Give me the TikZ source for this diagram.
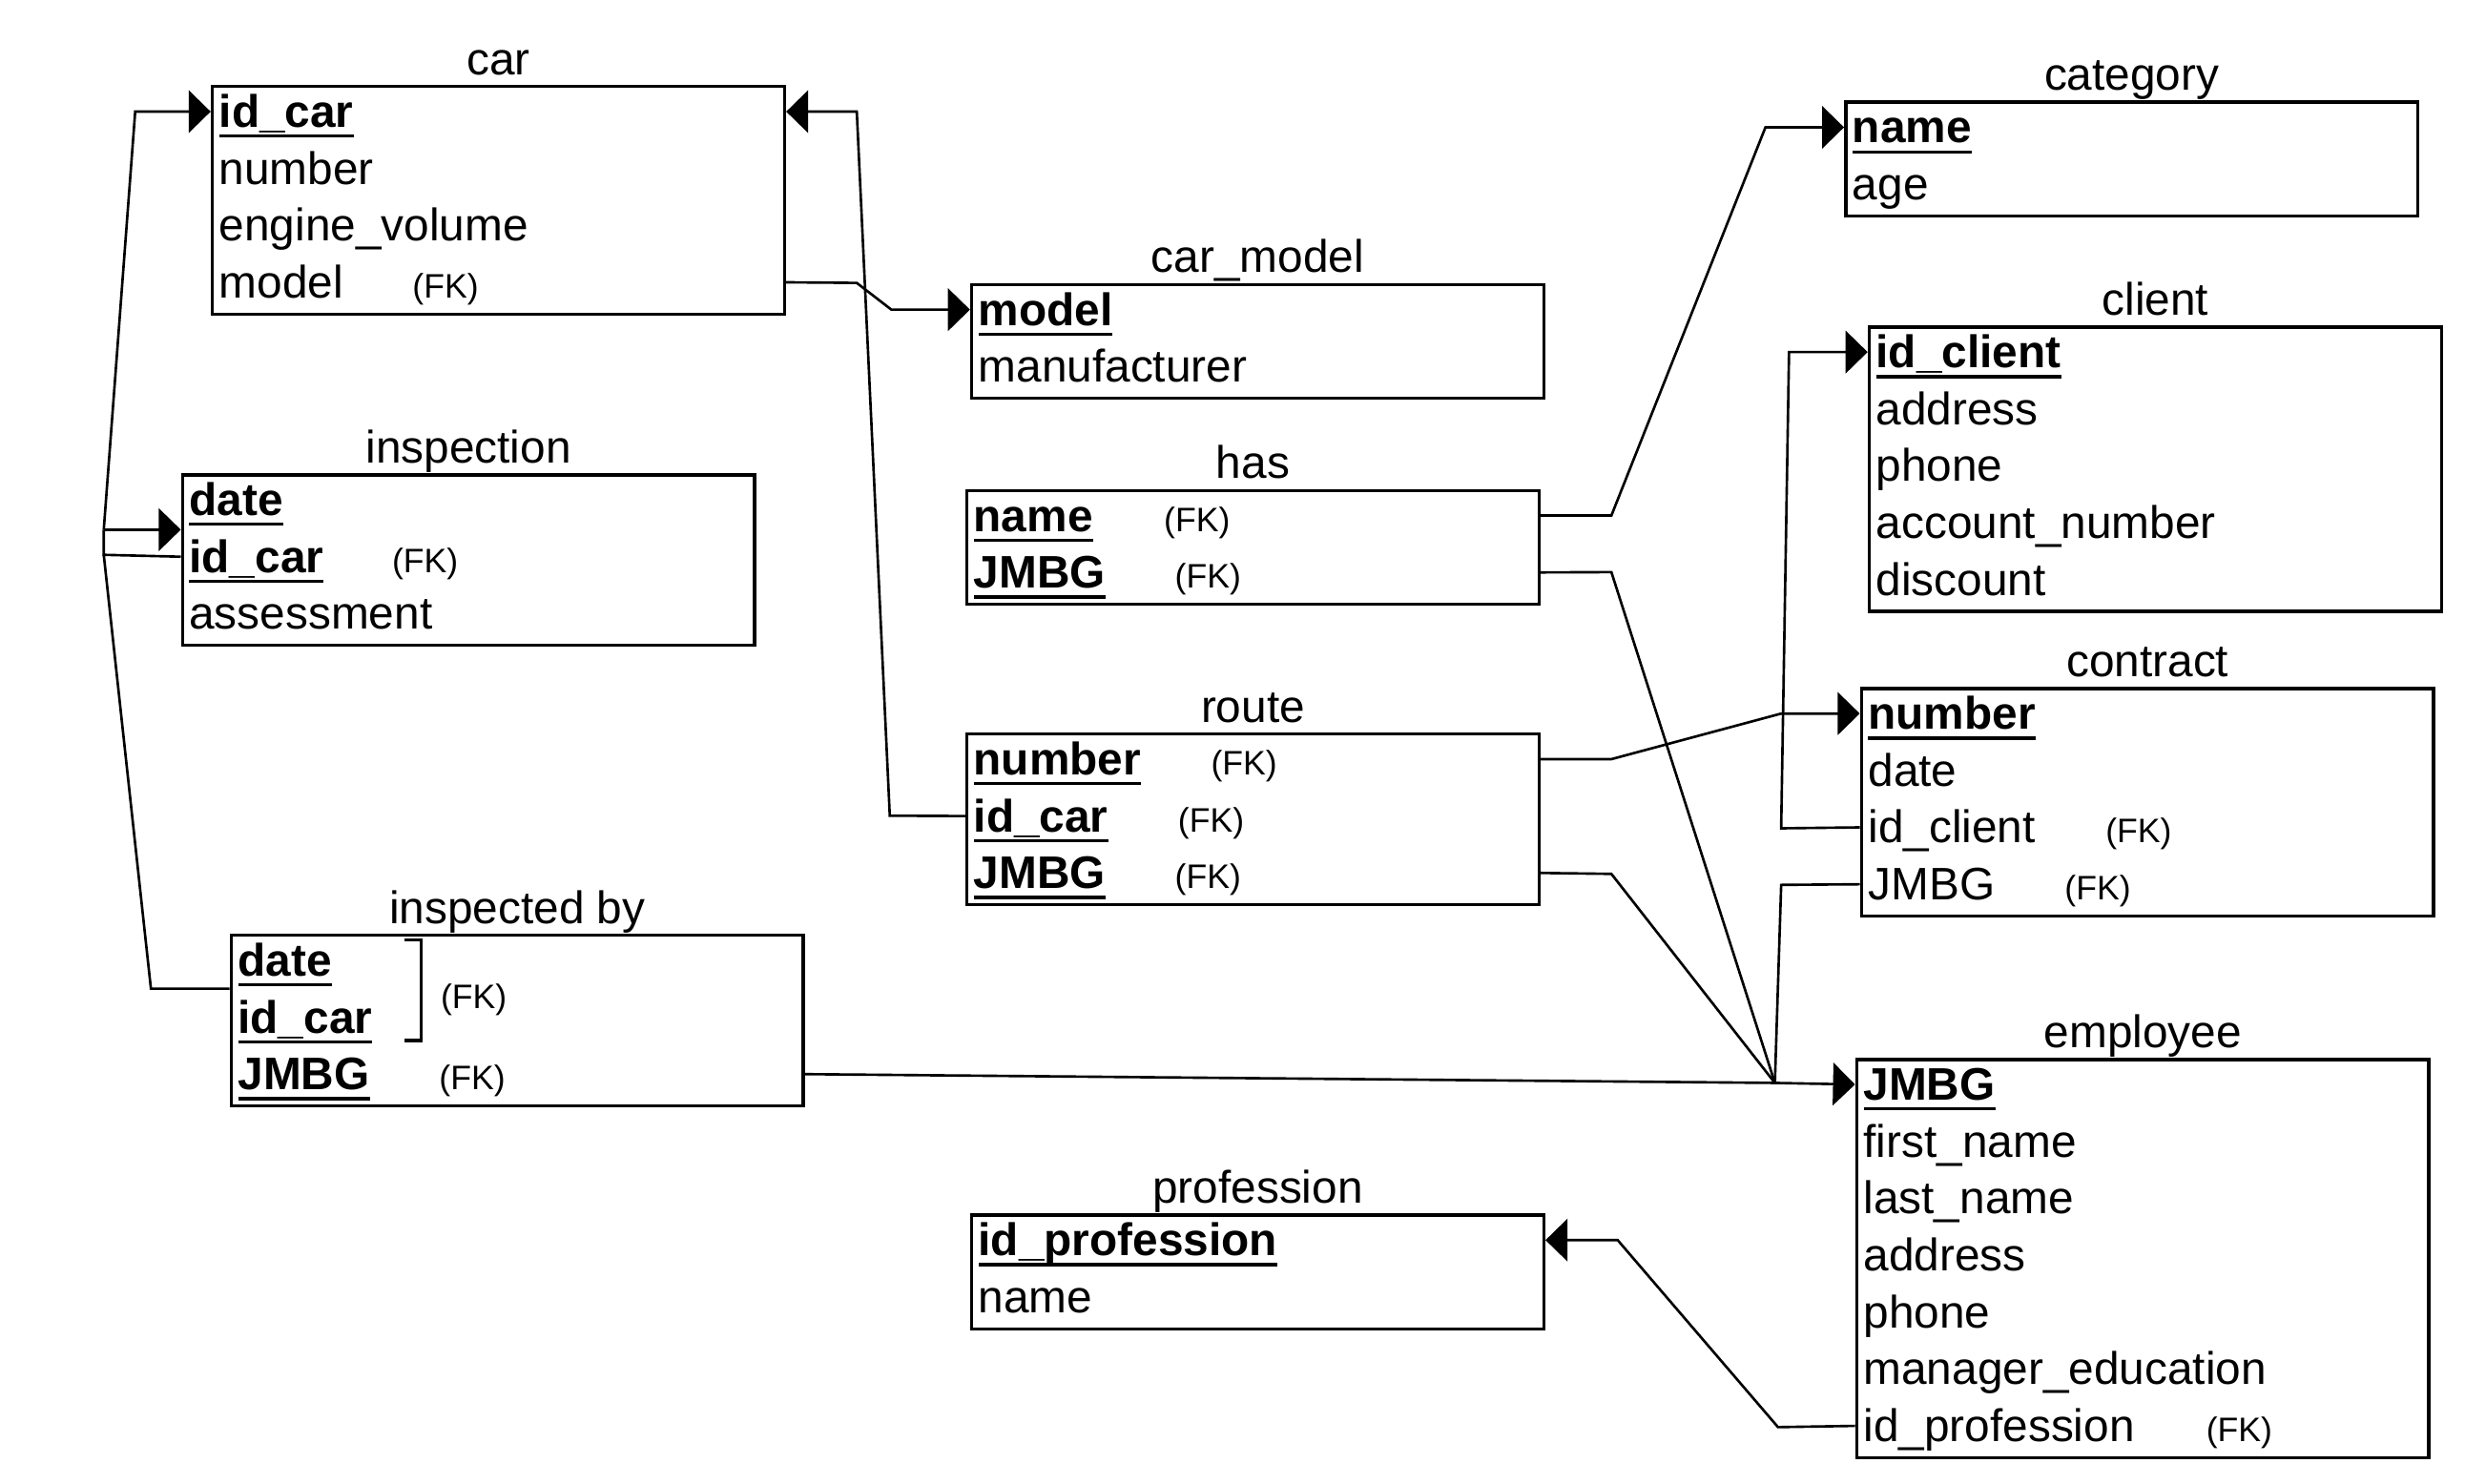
\documentclass[tikz,border=0pt]{standalone}
\usepackage{fontspec}
\setmainfont{Liberation Sans}
\usetikzlibrary{arrows.meta,calc}
\newcommand\pk[1]{\setbox0\hbox{\bfseries #1}\rlap{\rule[-3.3pt]{\wd0}{1pt}}\box0}
\newcommand\tablebox[5]{%
  \node[tbox, minimum height=#4*18.1pt] (#1) at (#2,#3) {};
  \node[ttl] (#1-title) at ($(#1.north)+(0,-6.5)$) {#5};}
\newcommand\trow[3]{%
  \node[attr] (#1-r#2) at ($(#1.north west)+(5,{27+36.2*(#2-1)})$) {#3};
  \coordinate (#1-w#2) at ($(#1.north west)+(0,{17+36.2*(#2-1)})$);
  \coordinate (#1-e#2) at ($(#1.north east)+(0,{17+36.2*(#2-1)})$);}
\newcommand\fkat[3]{%
  \node[fk] (#1-fk#2) at ($(#1-r#2.base west)+(#3,0)$) {(FK)};}
\begin{document}
\begin{tikzpicture}[x=0.5pt,y=-0.5pt,
  tbox/.style={draw, line width=1.05pt, minimum width=182pt, inner sep=0pt, anchor=north west},
  ttl/.style={anchor=base, inner sep=0pt, font=\fontsize{14.5}{17}\selectfont},
  attr/.style={anchor=base west, inner sep=0pt, font=\fontsize{14.5}{17}\selectfont},
  fk/.style={anchor=base west, inner sep=0pt, font=\fontsize{10.8}{13}\selectfont},
  conn/.style={line width=0.8pt, line join=miter},
  arr/.style={conn, -{Triangle[length=7pt,width=13.5pt]}},
  brk/.style={line width=1.05pt}]
\useasboundingbox (0,0) rectangle (1568,944);

% car
\tablebox{car}{134}{54}{4}{car}
\trow{car}{1}{\pk{id\_car}}
\trow{car}{2}{number}
\trow{car}{3}{engine\_volume}
\trow{car}{4}{model}
\fkat{car}{4}{123}

% inspection
\tablebox{insp}{115}{301}{3}{inspection}
\trow{insp}{1}{\pk{date}}
\trow{insp}{2}{\pk{id\_car}}
\trow{insp}{3}{assessment}
\fkat{insp}{2}{129}

% inspected by
\tablebox{inspby}{146}{594}{3}{inspected by}
\trow{inspby}{1}{\pk{date}}
\trow{inspby}{2}{\pk{id\_car}}
\trow{inspby}{3}{\pk{JMBG}}
\fkat{inspby}{3}{128}
\coordinate (br1) at (257,598);
\coordinate (br2) at (268,598);
\coordinate (br3) at (268,662);
\coordinate (br4) at (257,662);
\draw[brk] (br1) -- (br2) -- (br3) -- (br4);
\node[fk] (inspby-fkb) at (280,641.5) {(FK)};

% car_model
\tablebox{cm}{617}{180}{2}{car\_model}
\trow{cm}{1}{\pk{model}}
\trow{cm}{2}{manufacturer}

% has
\tablebox{has}{614}{311}{2}{has}
\trow{has}{1}{\pk{name}}
\trow{has}{2}{\pk{JMBG}}
\fkat{has}{1}{121}
\fkat{has}{2}{128}

% route
\tablebox{route}{614}{466}{3}{route}
\trow{route}{1}{\pk{number}}
\trow{route}{2}{\pk{id\_car}}
\trow{route}{3}{\pk{JMBG}}
\fkat{route}{1}{151}
\fkat{route}{2}{130}
\fkat{route}{3}{128}

% profession
\tablebox{prof}{617}{772}{2}{profession}
\trow{prof}{1}{\pk{id\_profession}}
\trow{prof}{2}{name}

% category
\tablebox{cat}{1173}{64}{2}{category}
\trow{cat}{1}{\pk{name}}
\trow{cat}{2}{age}

% client
\tablebox{cli}{1188}{207}{5}{client}
\trow{cli}{1}{\pk{id\_client}}
\trow{cli}{2}{address}
\trow{cli}{3}{phone}
\trow{cli}{4}{account\_number}
\trow{cli}{5}{discount}

% contract
\tablebox{con}{1183}{437}{4}{contract}
\trow{con}{1}{\pk{number}}
\trow{con}{2}{date}
\trow{con}{3}{id\_client}
\trow{con}{4}{JMBG}
\fkat{con}{3}{151}
\fkat{con}{4}{125}

% employee
\tablebox{emp}{1180}{673}{7}{employee}
\trow{emp}{1}{\pk{JMBG}}
\trow{emp}{2}{first\_name}
\trow{emp}{3}{last\_name}
\trow{emp}{4}{address}
\trow{emp}{5}{phone}
\trow{emp}{6}{manager\_education}
\trow{emp}{7}{id\_profession}
\fkat{emp}{7}{218}

% ---- connectors ----
\coordinate (j1) at (66,337);
\coordinate (j2) at (66,353);
\coordinate (k1) at (86,71);
\coordinate (k2) at (96,629);
\coordinate (insp-in) at ($(insp.north west)+(0,36)$);
\coordinate (inspby-in) at ($(inspby.north west)+(0,35)$);
\draw[arr] (j1) -- (k1) -- (car-w1);
\draw[arr] (j1) -- (insp-in);
\draw[conn] (j1) -- (j2) -- (insp-w2);
\draw[conn] (j2) -- (k2) -- (inspby-in);

\coordinate (m1) at (566,519);
\coordinate (m2) at (545,71);
\draw[arr] (route-w2) -- (m1) -- (m2) -- (car-e1);

\coordinate (n1) at (545,180);
\coordinate (n2) at (567,197);
\draw[arr] (car-e4) -- (n1) -- (n2) -- (cm-w1);

\coordinate (p1) at (1025,328);
\coordinate (p2) at (1123,81);
\draw[arr] (has-e1) -- (p1) -- (p2) -- (cat-w1);

\coordinate (hub) at (1129,689);
\draw[arr] (inspby-e3) -- (hub) -- (emp-w1);
\coordinate (q1) at (1025,364);
\draw[conn] (has-e2) -- (q1) -- (hub);
\coordinate (q2) at (1025,556);
\draw[conn] (route-e3) -- (q2) -- (hub);
\coordinate (q3) at (1133,563);
\draw[conn] (con-w4) -- (q3) -- (hub);

\coordinate (s1) at (1025,483);
\coordinate (s2) at (1133,454);
\draw[arr] (route-e1) -- (s1) -- (s2) -- (con-w1);

\coordinate (t1) at (1133,527);
\coordinate (t2) at (1138,224);
\draw[arr] (con-w3) -- (t1) -- (t2) -- (cli-w1);

\coordinate (u1) at (1131,908);
\coordinate (u2) at (1029,789);
\draw[arr] (emp-w7) -- (u1) -- (u2) -- (prof-e1);
\end{tikzpicture}
\end{document}
